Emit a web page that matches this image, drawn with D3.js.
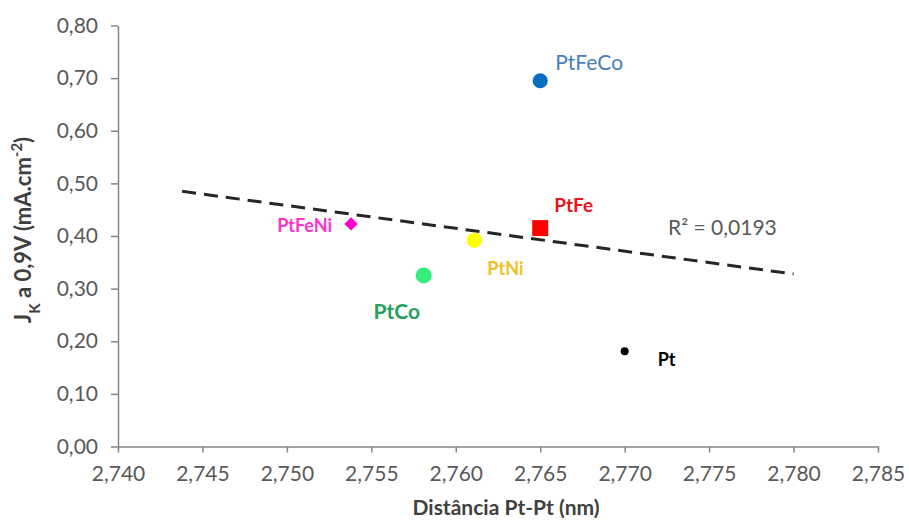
<!DOCTYPE html>
<html>
<head>
<meta charset="utf-8">
<script src="https://cdn.jsdelivr.net/npm/d3@7"></script>
<style>
  html, body { margin: 0; padding: 0; background: #ffffff; }
  svg { display: block; font-family: Lato, "Open Sans", sans-serif; }
</style>
</head>
<body>
<svg id="chart" width="909" height="522"></svg>
<script>
// Alloy samples: Pt-Pt distance (nm) vs kinetic current density at 0.9 V
const names    = ["PtFeNi", "PtCo", "PtNi", "PtFe", "PtFeCo", "Pt"];
const distance = [2.7538, 2.7581, 2.7611, 2.765, 2.765, 2.770];
const jk       = [0.423, 0.325, 0.392, 0.415, 0.695, 0.181];

const xTicks = [2.740, 2.745, 2.750, 2.755, 2.760, 2.765, 2.770, 2.775, 2.780, 2.785];
const yTicks = [0, 0.1, 0.2, 0.3, 0.4, 0.5, 0.6, 0.7, 0.8];
const r2Text = "0,0193";
const trendForecast = 0.01; // trendline extended backward/forward along x

// Marker and label styling per sample
const styles = {
  PtFeNi: { shape: "diamond", fill: "#ff00cc", size: 90,  label: "#ff33cc", weight: "bold",   fs: 18, anchor: "end",    dx: -19, dy: 3 },
  PtCo:   { shape: "circle",  fill: "#33ee7a", size: 200, label: "#24a05e", weight: "bold",   fs: 21, anchor: "middle", dx: -27, dy: 38 },
  PtNi:   { shape: "circle",  fill: "#ffff00", size: 180, label: "#f0c020", weight: "bold",   fs: 18, anchor: "start",  dx: 13,  dy: 30 },
  PtFe:   { shape: "square",  fill: "#ff0000", size: 256, label: "#e8141e", weight: "bold",   fs: 19, anchor: "start",  dx: 14,  dy: -21 },
  PtFeCo: { shape: "circle",  fill: "#0a6ec2", size: 180, label: "#4a7ebb", weight: "normal", fs: 21, anchor: "start",  dx: 15,  dy: -16 },
  Pt:     { shape: "circle",  fill: "#000000", size: 50,  label: "#000000", weight: "bold",   fs: 18, anchor: "start",  dx: 33,  dy: 10 }
};

const fmt = d3.format(".2f");
const comma = s => s.replace(".", ",");

const svg = d3.select("#chart");
const plot = { left: 118, right: 878, top: 25.5, bottom: 446.5 };

const x = d3.scaleLinear().domain([2.740, 2.785]).range([plot.left, plot.right]);
const y = d3.scaleLinear().domain([0, 0.8]).range([plot.bottom, plot.top]);

const axisColor = "#868686";
const tickText = "#595959";

// Y axis
const yAxis = svg.append("g")
  .attr("transform", `translate(${plot.left},0)`)
  .call(d3.axisLeft(y).tickValues(yTicks).tickSizeInner(7).tickSizeOuter(0).tickPadding(13)
    .tickFormat(d => comma(fmt(d))));
// X axis
const xAxis = svg.append("g")
  .attr("transform", `translate(0,${plot.bottom})`)
  .call(d3.axisBottom(x).tickValues(xTicks).tickSizeInner(6).tickSizeOuter(0).tickPadding(14)
    .tickFormat(d => comma(d3.format(".3f")(d))));

[xAxis, yAxis].forEach(g => {
  g.select(".domain").attr("stroke", axisColor).attr("stroke-width", 1.5);
  g.selectAll(".tick line").attr("stroke", axisColor).attr("stroke-width", 1.5);
  g.selectAll(".tick text").attr("fill", tickText).style("font-size", "21px")
    .style("font-family", "Lato, sans-serif");
});

// Linear trendline (least squares) over the samples
const pts = names.map((n, i) => ({ name: n, x: distance[i], y: jk[i] }));
const mx = d3.mean(pts, d => d.x), my = d3.mean(pts, d => d.y);
const sxy = d3.sum(pts, d => (d.x - mx) * (d.y - my));
const sxx = d3.sum(pts, d => (d.x - mx) ** 2);
const slope = sxy / sxx, intercept = my - slope * mx;
const tx0 = d3.min(distance) - trendForecast, tx1 = d3.max(distance) + trendForecast;
svg.append("line")
  .attr("x1", x(tx0)).attr("y1", y(intercept + slope * tx0))
  .attr("x2", x(tx1)).attr("y2", y(intercept + slope * tx1))
  .attr("stroke", "#262626").attr("stroke-width", 3)
  .attr("stroke-dasharray", "14,8");

svg.append("text")
  .attr("x", 668).attr("y", 230).attr("dominant-baseline", "middle")
  .attr("fill", "#595959").style("font-size", "21px")
  .text("R² = " + r2Text);

// Markers
const shapeType = { circle: d3.symbolCircle, square: d3.symbolSquare, diamond: d3.symbolSquare };
svg.append("g").selectAll("path").data(pts).join("path")
  .attr("d", d => d3.symbol().type(shapeType[styles[d.name].shape]).size(styles[d.name].size)())
  .attr("transform", d => `translate(${x(d.x)},${y(d.y)})` + (styles[d.name].shape === "diamond" ? " rotate(45)" : ""))
  .attr("fill", d => styles[d.name].fill);

// Point labels
svg.append("g").selectAll("text").data(pts).join("text")
  .attr("x", d => x(d.x) + styles[d.name].dx)
  .attr("y", d => y(d.y) + styles[d.name].dy)
  .attr("text-anchor", d => styles[d.name].anchor)
  .attr("dominant-baseline", "middle")
  .attr("fill", d => styles[d.name].label)
  .style("font-weight", d => styles[d.name].weight)
  .style("font-size", d => styles[d.name].fs + "px")
  .text(d => d.name);

// Axis titles
svg.append("text")
  .attr("x", 506).attr("y", 515).attr("text-anchor", "middle")
  .attr("fill", "#404040").style("font-weight", "bold").style("font-size", "21px")
  .text("Distância Pt-Pt (nm)");

const yt = svg.append("text")
  .attr("transform", "translate(31,230) rotate(-90)")
  .attr("text-anchor", "middle")
  .attr("fill", "#404040").style("font-weight", "bold").style("font-size", "22px");
yt.append("tspan").text("J");
yt.append("tspan").attr("baseline-shift", "sub").style("font-size", "15px").text("K");
yt.append("tspan").text(" a 0,9V (mA.cm");
yt.append("tspan").attr("baseline-shift", "super").style("font-size", "15px").text("-2");
yt.append("tspan").text(")");
</script>
</body>
</html>
